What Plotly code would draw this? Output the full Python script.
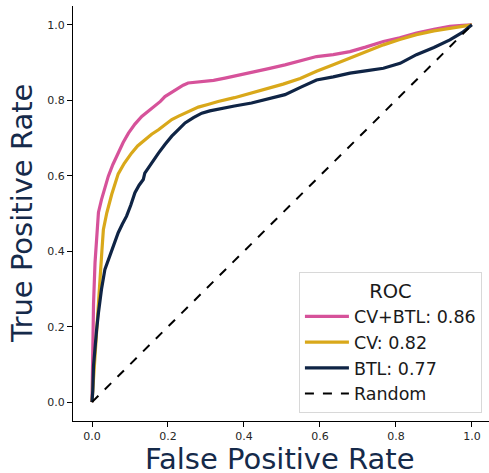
import plotly.graph_objects as go

# ROC data
cvbtl_fpr = [0.0, 0.001, 0.004, 0.008, 0.013, 0.017, 0.025, 0.034, 0.043, 0.055, 0.069, 0.082, 0.096, 0.113, 0.131, 0.148, 0.166, 0.180, 0.192, 0.210, 0.227, 0.240, 0.253, 0.275, 0.297, 0.320, 0.350, 0.385, 0.420, 0.465, 0.508, 0.550, 0.591, 0.635, 0.679, 0.720, 0.767, 0.810, 0.854, 0.900, 0.942, 0.975, 1.0]
cvbtl_tpr = [0.0, 0.13, 0.26, 0.37, 0.45, 0.503, 0.537, 0.566, 0.599, 0.630, 0.660, 0.688, 0.713, 0.737, 0.757, 0.771, 0.784, 0.797, 0.810, 0.822, 0.832, 0.840, 0.846, 0.848, 0.850, 0.853, 0.859, 0.866, 0.874, 0.884, 0.894, 0.905, 0.916, 0.921, 0.929, 0.941, 0.956, 0.966, 0.978, 0.988, 0.996, 0.999, 1.0]

cv_fpr = [0.0, 0.003, 0.008, 0.014, 0.021, 0.026, 0.030, 0.039, 0.052, 0.060, 0.069, 0.085, 0.104, 0.120, 0.139, 0.157, 0.175, 0.192, 0.210, 0.228, 0.245, 0.262, 0.280, 0.305, 0.332, 0.375, 0.420, 0.460, 0.503, 0.548, 0.591, 0.635, 0.679, 0.720, 0.767, 0.810, 0.854, 0.900, 0.942, 0.975, 1.0]
cv_tpr = [0.0, 0.05, 0.132, 0.23, 0.325, 0.40, 0.458, 0.502, 0.551, 0.580, 0.605, 0.633, 0.660, 0.679, 0.696, 0.710, 0.722, 0.735, 0.749, 0.758, 0.766, 0.774, 0.782, 0.789, 0.797, 0.807, 0.819, 0.830, 0.843, 0.858, 0.877, 0.894, 0.912, 0.929, 0.947, 0.961, 0.974, 0.984, 0.991, 0.996, 1.0]

btl_fpr = [0.0, 0.002, 0.004, 0.008, 0.012, 0.017, 0.025, 0.034, 0.047, 0.058, 0.069, 0.080, 0.091, 0.102, 0.113, 0.124, 0.135, 0.139, 0.157, 0.175, 0.192, 0.210, 0.228, 0.245, 0.267, 0.289, 0.310, 0.332, 0.375, 0.420, 0.460, 0.508, 0.550, 0.591, 0.635, 0.679, 0.720, 0.767, 0.811, 0.854, 0.900, 0.942, 0.975, 1.0]
btl_tpr = [0.0, 0.03, 0.096, 0.15, 0.19, 0.237, 0.299, 0.352, 0.387, 0.418, 0.449, 0.472, 0.493, 0.522, 0.555, 0.575, 0.590, 0.607, 0.635, 0.660, 0.683, 0.705, 0.723, 0.740, 0.754, 0.766, 0.772, 0.777, 0.785, 0.793, 0.803, 0.815, 0.835, 0.854, 0.862, 0.872, 0.878, 0.885, 0.898, 0.921, 0.940, 0.960, 0.980, 1.0]

random_fpr = [0.0, 1.0]
random_tpr = [0.0, 1.0]

series_names = ["CV+BTL: 0.86", "CV: 0.82", "BTL: 0.77", "Random"]
colors = ["#D6529A", "#D9A81A", "#0F2445", "black"]
x_title = "False Positive Rate"
y_title = "True Positive Rate"
legend_title = "ROC"

fig = go.Figure()
fig.add_trace(go.Scatter(x=cvbtl_fpr, y=cvbtl_tpr, mode="lines", name=series_names[0],
                         line=dict(color=colors[0], width=3.2)))
fig.add_trace(go.Scatter(x=cv_fpr, y=cv_tpr, mode="lines", name=series_names[1],
                         line=dict(color=colors[1], width=3.2)))
fig.add_trace(go.Scatter(x=btl_fpr, y=btl_tpr, mode="lines", name=series_names[2],
                         line=dict(color=colors[2], width=3.2)))
fig.add_trace(go.Scatter(x=random_fpr, y=random_tpr, mode="lines", name=series_names[3],
                         line=dict(color=colors[3], width=2, dash="dash")))

tickvals = [0.0, 0.2, 0.4, 0.6, 0.8, 1.0]
ticktext = ["0.0", "0.2", "0.4", "0.6", "0.8", "1.0"]

axis_common = dict(
    showgrid=False, zeroline=False, showline=True, linecolor="black", linewidth=1.2,
    ticks="outside", ticklen=5, tickwidth=1, tickcolor="black",
    tickfont=dict(family="DejaVu Sans", size=11, color="#262626"),
    tickvals=tickvals, ticktext=ticktext, mirror=False, automargin=False,
)

title_font = dict(size=29, color="#152a4a", family="DejaVu Sans")

fig.update_layout(
    width=489, height=473,
    margin=dict(l=73, r=0, t=6, b=52, autoexpand=False),
    paper_bgcolor="white", plot_bgcolor="white",
    font=dict(family="DejaVu Sans"),
    xaxis=dict(range=[-0.05, 1.045], **axis_common),
    yaxis=dict(range=[-0.05, 1.05], **axis_common),
    legend=dict(
        x=0.983, y=0.019, xanchor="right", yanchor="bottom",
        bgcolor="white", bordercolor="#d8d8d8", borderwidth=1,
        font=dict(size=17.5, color="#1a1a1a", family="DejaVu Sans"),
        title=dict(text=legend_title, side="top center",
                   font=dict(size=19.5, color="#1a1a1a")),
        tracegroupgap=0, itemwidth=44,
    ),
    showlegend=True,
    annotations=[
        dict(text=x_title, xref="paper", yref="paper", x=0.4975, y=-0.0916,
             xanchor="center", yanchor="middle", showarrow=False, font=title_font),
        dict(text=y_title, xref="paper", yref="paper", x=-0.124, y=0.5,
             xanchor="center", yanchor="middle", showarrow=False, textangle=-90,
             font=title_font),
    ],
)

fig.write_html(
    "out.html",
    config={"displayModeBar": False},
    post_script="document.body.style.margin='0';document.body.style.overflow='hidden';",
)
